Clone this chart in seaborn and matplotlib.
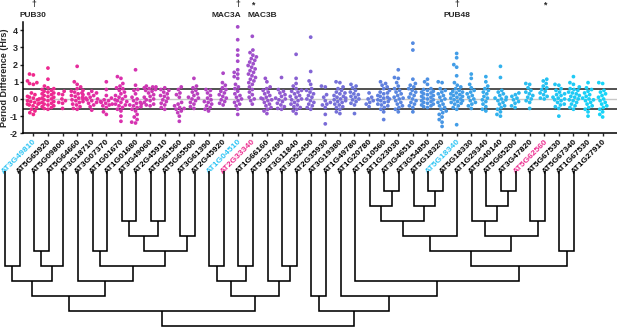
import warnings
warnings.filterwarnings("ignore")
import numpy as np
import pandas as pd
import matplotlib
matplotlib.use("Agg")
import matplotlib.pyplot as plt
import seaborn as sns
from matplotlib.colors import LinearSegmentedColormap, to_hex

# ---------------- data ----------------
genes = ["AT3G49810", "AT5G65920", "AT5G09800", "AT5G64660", "AT3G18710", "AT3G07370",
         "AT1G01670", "AT1G01680", "AT3G49060", "AT2G45910", "AT5G61560", "AT5G65500",
         "AT3G61390", "AT2G45920", "AT1G04510", "AT2G33340", "AT1G66160", "AT5G37490",
         "AT3G11840", "AT3G52450", "AT2G35930", "AT3G19380", "AT1G49780", "AT1G20780",
         "AT1G10560", "AT1G23030", "AT3G46510", "AT3G54850", "AT5G18320", "AT5G18340",
         "AT5G18330", "AT1G29340", "AT5G40140", "AT5G65200", "AT3G47820", "AT5G62560",
         "AT5G67530", "AT5G67340", "AT1G67530", "AT1G27910"]
cyan_labels = ["AT3G49810", "AT1G04510", "AT5G18340"]
magenta_labels = ["AT2G33340", "AT5G62560"]

d_AT3G49810 = [1.45, 1.4, 1.05, 0.95, 0.9, 0.85, 0.35, 0.25, 0.15, 0.1, 0.05, 0.0, -0.05, -0.1, -0.15, -0.2, -0.25, -0.3, -0.3, -0.35, -0.4, -0.5, -0.6, -0.7, -0.8, -0.9]
d_AT5G65920 = [1.8, 1.15, 0.75, 0.65, 0.6, 0.55, 0.5, 0.45, 0.4, 0.35, 0.3, 0.25, 0.2, 0.15, 0.1, 0.05, 0.0, -0.05, -0.1, -0.15, -0.2, -0.25, -0.3, -0.35, -0.4, -0.45, -0.5, -0.55, -0.6]
d_AT5G09800 = [0.45, 0.3, 0.25, 0.0, -0.1, -0.2, -0.25, -0.55]
d_AT5G64660 = [1.9, 1.0, 0.85, 0.7, 0.6, 0.5, 0.45, 0.4, 0.35, 0.3, 0.25, 0.2, 0.15, 0.1, 0.05, 0.0, -0.05, -0.1, -0.15, -0.2, -0.3, -0.35, -0.45, -0.55, -0.6]
d_AT3G18710 = [0.45, 0.35, 0.3, 0.2, 0.1, 0.05, 0.0, -0.05, -0.1, -0.2, -0.25, -0.35, -0.45, -0.65]
d_AT3G07370 = [1.0, 0.55, 0.2, 0.05, -0.05, -0.1, -0.15, -0.2, -0.25, -0.3, -0.35, -0.4, -0.5, -0.75, -0.9]
d_AT1G01670 = [1.3, 1.2, 0.9, 0.75, 0.65, 0.6, 0.5, 0.4, 0.3, 0.2, 0.15, 0.1, 0.0, -0.05, -0.1, -0.15, -0.2, -0.3, -0.35, -0.4, -0.5, -0.6, -0.7, -1.0, -1.3]
d_AT1G01680 = [1.7, 0.8, 0.55, 0.5, 0.3, 0.1, 0.0, -0.1, -0.2, -0.25, -0.3, -0.35, -0.4, -0.45, -0.5, -0.6, -0.7, -0.9, -1.05, -1.2, -1.35, -1.4]
d_AT3G49060 = [0.75, 0.7, 0.7, 0.65, 0.6, 0.55, 0.5, 0.45, 0.35, 0.25, 0.15, 0.1, 0.0, -0.05, -0.1, -0.2, -0.3, -0.35, -0.4]
d_AT2G45910 = [0.65, 0.55, 0.5, 0.4, 0.3, 0.2, 0.15, 0.05, -0.05, -0.15, -0.25, -0.35, -0.5, -0.6]
d_AT5G61560 = [0.7, 0.55, 0.35, 0.25, 0.1, -0.2, -0.3, -0.4, -0.5, -0.55, -0.6, -0.7, -0.8, -1.0, -1.3]
d_AT5G65500 = [1.2, 0.75, 0.65, 0.5, 0.4, 0.3, 0.2, 0.1, 0.05, 0.0, -0.1, -0.2, -0.3, -0.45, -0.55]
d_AT3G61390 = [0.55, 0.5, 0.35, 0.2, 0.05, -0.05, -0.15, -0.2, -0.3, -0.4, -0.5, -0.6, -0.7]
d_AT2G45920 = [1.5, 0.95, 0.8, 0.65, 0.55, 0.45, 0.35, 0.25, 0.15, 0.05, -0.05, -0.15, -0.25, -0.35]
d_AT1G04510 = [4.2, 3.45, 2.85, 2.55, 2.2, 1.7, 1.55, 1.45, 1.3, 1.2, 0.85, 0.7, 0.6, 0.45, 0.3, 0.2, 0.1, 0.0, -0.1, -0.2, -0.3, -0.4, -0.6, -0.9]
d_AT2G33340 = [3.65, 2.85, 2.7, 2.55, 2.45, 2.35, 2.25, 2.15, 2.05, 1.95, 1.85, 1.75, 1.65, 1.55, 1.45, 1.35, 1.25, 1.15, 1.05, 0.95, 0.85, 0.7, 0.55, 0.4, 0.25, 0.1, 0.0, -0.1, -0.3]
d_AT1G66160 = [1.2, 1.0, 0.7, 0.6, 0.5, 0.4, 0.3, 0.2, 0.1, 0.05, 0.0, -0.05, -0.1, -0.2, -0.3, -0.4, -0.5, -0.6, -0.7, -0.85]
d_AT5G37490 = [1.25, 0.55, 0.45, 0.35, 0.25, 0.15, 0.05, 0.0, -0.05, -0.15, -0.25, -0.35, -0.45, -0.55, -0.6]
d_AT3G11840 = [2.6, 1.2, 0.9, 0.75, 0.6, 0.5, 0.45, 0.4, 0.3, 0.2, 0.15, 0.1, 0.0, -0.05, -0.1, -0.2, -0.3, -0.35, -0.45, -0.5, -0.6, -0.7, -0.85]
d_AT3G52450 = [3.6, 1.6, 1.05, 0.85, 0.6, 0.5, 0.4, 0.3, 0.2, 0.1, 0.0, -0.1, -0.2, -0.3, -0.4, -0.5, -0.6]
d_AT2G35930 = [0.75, 0.7, 0.25, 0.1, -0.1, -0.2, -0.3, -0.35, -0.5, -0.9, -1.45]
d_AT3G19380 = [1.0, 0.95, 0.7, 0.6, 0.5, 0.4, 0.35, 0.3, 0.2, 0.15, 0.1, 0.05, 0.0, -0.05, -0.1, -0.15, -0.2, -0.3, -0.35, -0.45, -0.5, -0.6, -0.75, -0.85]
d_AT1G49780 = [0.85, 0.75, 0.65, 0.5, 0.4, 0.3, 0.25, 0.15, 0.1, 0.0, -0.05, -0.15, -0.25, -0.35, -0.85]
d_AT1G20780 = [0.35, 0.1, 0.0, -0.1, -0.2, -0.3, -0.45]
d_AT1G10560 = [1.0, 0.9, 0.8, 0.7, 0.6, 0.5, 0.4, 0.35, 0.3, 0.2, 0.15, 0.1, 0.05, 0.0, -0.05, -0.1, -0.15, -0.2, -0.3, -0.35, -0.4, -0.5, -0.6, -0.75, -1.2]
d_AT1G23030 = [1.7, 1.25, 1.2, 0.95, 0.75, 0.6, 0.5, 0.4, 0.3, 0.2, 0.1, 0.05, 0.0, -0.1, -0.2, -0.3, -0.4, -0.5, -0.6, -0.75]
d_AT3G46510 = [3.25, 2.85, 1.15, 0.9, 0.8, 0.7, 0.6, 0.5, 0.4, 0.3, 0.2, 0.1, 0.0, -0.1, -0.2, -0.3, -0.4, -0.5, -0.75]
d_AT3G54850 = [1.15, 1.0, 0.85, 0.6, 0.55, 0.5, 0.45, 0.4, 0.35, 0.3, 0.25, 0.2, 0.15, 0.1, 0.05, 0.0, -0.05, -0.1, -0.15, -0.2, -0.25, -0.3, -0.35, -0.4, -0.45, -0.5]
d_AT5G18320 = [1.0, 0.95, 0.6, 0.5, 0.4, 0.3, 0.2, 0.1, 0.0, -0.1, -0.2, -0.3, -0.4, -0.5, -0.6, -0.7, -0.8, -0.9, -1.05, -1.2, -1.35, -1.6]
d_AT5G18340 = [2.65, 2.4, 2.0, 1.85, 1.35, 0.95, 0.8, 0.7, 0.6, 0.5, 0.45, 0.4, 0.35, 0.3, 0.25, 0.2, 0.15, 0.1, 0.05, 0.0, -0.05, -0.1, -0.15, -0.2, -0.25, -0.3, -0.4, -0.5, -0.6, -1.5]
d_AT5G18330 = [1.45, 1.2, 0.85, 0.65, 0.5, 0.4, 0.3, 0.2, 0.1, 0.0, -0.1, -0.2, -0.3, -0.4, -0.55]
d_AT1G29340 = [1.3, 1.0, 0.75, 0.6, 0.5, 0.4, 0.3, 0.15, 0.05, -0.05, -0.15, -0.3, -0.45, -0.6, -0.7]
d_AT5G40140 = [1.9, 1.25, 0.5, 0.4, 0.3, 0.2, 0.1, 0.05, 0.0, -0.05, -0.1, -0.2, -0.3, -0.4, -0.5, -0.6, -0.75, -0.9, -1.0]
d_AT5G65200 = [0.35, 0.25, 0.15, 0.05, -0.05, -0.15, -0.25, -0.4, -0.5]
d_AT3G47820 = [0.9, 0.85, 0.65, 0.5, 0.4, 0.3, 0.2, 0.1, 0.0, -0.1, -0.2, -0.55]
d_AT5G62560 = [1.15, 1.05, 0.9, 0.75, 0.65, 0.55, 0.45, 0.35, 0.25, 0.15, 0.05, 0.0]
d_AT5G67530 = [0.85, 0.8, 0.6, 0.5, 0.4, 0.3, 0.25, 0.2, 0.1, 0.05, 0.0, -0.05, -0.1, -0.2, -0.3, -0.35, -0.45, -0.55, -1.0]
d_AT5G67340 = [1.3, 0.95, 0.85, 0.7, 0.6, 0.55, 0.5, 0.4, 0.35, 0.3, 0.2, 0.15, 0.1, 0.0, -0.05, -0.1, -0.2, -0.3, -0.4, -0.5, -0.6]
d_AT1G67530 = [0.95, 0.65, 0.55, 0.45, 0.35, 0.25, 0.15, 0.05, 0.0, -0.05, -0.1, -0.2, -0.3, -0.4, -0.5, -0.6, -0.75, -1.0]
d_AT1G27910 = [0.95, 0.9, 0.5, 0.4, 0.3, 0.2, 0.1, 0.0, -0.1, -0.2, -0.3, -0.4, -0.5, -0.6, -0.75, -0.9, -1.05]

threshold = 0.58

# annotations above columns
ann_genes = ["AT3G49810", "AT1G04510", "AT2G33340", "AT5G18340", "AT5G62560"]
ann_names = ["PUB30", "MAC3A", "MAC3B", "PUB48", ""]
ann_marks = ["\u2020", "\u2020", "*", "\u2020", "*"]

# dendrogram merges (scipy-like linkage: new node ids start at 40)
merge_a = [26, 29, 34, 25, 28, 33, 8, 10, 43, 32, 36, 46, 12, 48, 49, 2, 6, 51, 53, 38,
           0, 55, 56, 14, 16, 19, 58, 60, 5, 63, 18, 24, 67, 69, 21, 23, 72, 74, 76]
merge_b = [27, 30, 35, 40, 41, 42, 9, 11, 44, 45, 37, 47, 13, 31, 50, 3, 7, 52, 54, 39,
           1, 4, 57, 15, 17, 20, 59, 61, 62, 64, 65, 66, 68, 70, 22, 71, 73, 75, 77]
merge_level = [1, 1, 1, 2, 2, 2, 3, 3, 3, 3, 3, 4, 4, 4, 4, 5, 5, 5, 5, 5,
               6, 6, 6, 6, 6, 6, 6, 7, 7, 7, 7, 7, 8, 8, 8, 8, 9, 9, 10]

# ---------------- build table ----------------
rows = []
for g in genes:
    for v in globals()["d_" + g]:
        rows.append((g, v))
df = pd.DataFrame(rows, columns=["gene", "diff"])

sns.set_theme(style="ticks")
plt.rcParams["font.family"] = ["Liberation Sans", "DejaVu Sans"]
plt.rcParams["font.weight"] = "bold"
plt.rcParams["axes.unicode_minus"] = False

cmap = LinearSegmentedColormap.from_list(
    "grad",
    [(0.0, "#f0288c"), (0.15, "#dc30ad"), (0.33, "#ae46c6"), (0.5, "#7e68d6"),
     (0.7, "#4b92e3"), (0.85, "#2cb8ef"), (1.0, "#17d4f8")])
palette = [to_hex(cmap(i / (len(genes) - 1))) for i in range(len(genes))]

W, H = 617, 327
fig = plt.figure(figsize=(W / 100, H / 100), dpi=100)

# main strip axes
left_px, right_px, top_px, bot_px = 22.7, 616.5, 21.7, 133.3
ax = fig.add_axes([left_px / W, 1 - bot_px / H, (right_px - left_px) / W, (bot_px - top_px) / H])
ax.axhline(0, color="#c8c8c8", lw=1.0, zorder=0)
ax.axhline(threshold, color="#222222", lw=1.1, zorder=1)
ax.axhline(-threshold, color="#222222", lw=1.1, zorder=1)
sns.swarmplot(data=df, x="gene", y="diff", hue="gene", order=genes, hue_order=genes,
              palette=palette, size=2.7, linewidth=0, legend=False, ax=ax, zorder=3,
              warn_thresh=1)
ax.set_xlim(-0.73, 39.95)
ax.set_ylim(-2, 4.5)
ax.set_yticks([-2, -1, 0, 1, 2, 3, 4])
ax.set_xlabel("")
ax.set_ylabel("Period Difference (Hrs)", fontsize=6.5, fontweight="bold")
ax.yaxis.set_label_coords(-0.0235, 0.5)
for s in ["top", "right"]:
    ax.spines[s].set_visible(False)
for s in ["left", "bottom"]:
    ax.spines[s].set_linewidth(1.1)
    ax.spines[s].set_color("black")
ax.tick_params(axis="y", labelsize=6.5, length=2.5, width=1, pad=0.8)
ax.tick_params(axis="x", labelsize=6.1, length=2.2, width=1, pad=1.2)
ax.set_xticks(range(len(genes)))
ax.set_xticklabels(genes, rotation=45, ha="right", va="top", rotation_mode="anchor")
for lab in ax.get_xticklabels():
    t = lab.get_text()
    lab.set_fontweight("bold")
    if t in cyan_labels:
        lab.set_color("#2cc4f4")
    elif t in magenta_labels:
        lab.set_color("#ec2a8e")
    else:
        lab.set_color("black")
for lab in ax.get_yticklabels():
    lab.set_fontweight("bold")

name_offsets = {"MAC3A": -8, "MAC3B": 7.2}
for g, name, mark in zip(ann_genes, ann_names, ann_marks):
    xi = genes.index(g)
    ax.annotate(mark, (xi, 1.0), xycoords=("data", "axes fraction"),
                xytext=(0, 12.3), textcoords="offset points",
                ha="center", va="center", fontsize=6.3,
                fontweight="bold", annotation_clip=False)
    if name:
        ax.annotate(name, (xi, 1.0), xycoords=("data", "axes fraction"),
                    xytext=(name_offsets.get(name, 0), 3.4), textcoords="offset points",
                    ha="center", va="baseline", fontsize=6, fontweight="bold",
                    annotation_clip=False)

# dendrogram axes
dtop_px = 168
ax2 = fig.add_axes([0, 0, 1, (H - dtop_px) / H])
step_px, lvl1_px, leaf0_px = 15.03, 190.7, 5.0
leaf_spacing = 14.59
ax2.set_xlim(-leaf0_px / leaf_spacing, (W - leaf0_px) / leaf_spacing)
ax2.set_ylim(1 + (H - lvl1_px) / step_px, 1 + (dtop_px - lvl1_px) / step_px)
ax2.axis("off")

leaf_top = -0.3
pos = {i: float(i) for i in range(len(genes))}
hgt = {i: leaf_top for i in range(len(genes))}
for k, (a, b, lv) in enumerate(zip(merge_a, merge_b, merge_level)):
    node = len(genes) + k
    ax2.plot([pos[a], pos[a], pos[b], pos[b]], [hgt[a], lv, lv, hgt[b]],
             color="black", lw=1.15, solid_joinstyle="miter", solid_capstyle="butt")
    pos[node] = (pos[a] + pos[b]) / 2
    hgt[node] = lv

fig.savefig("out.png", dpi=100)
